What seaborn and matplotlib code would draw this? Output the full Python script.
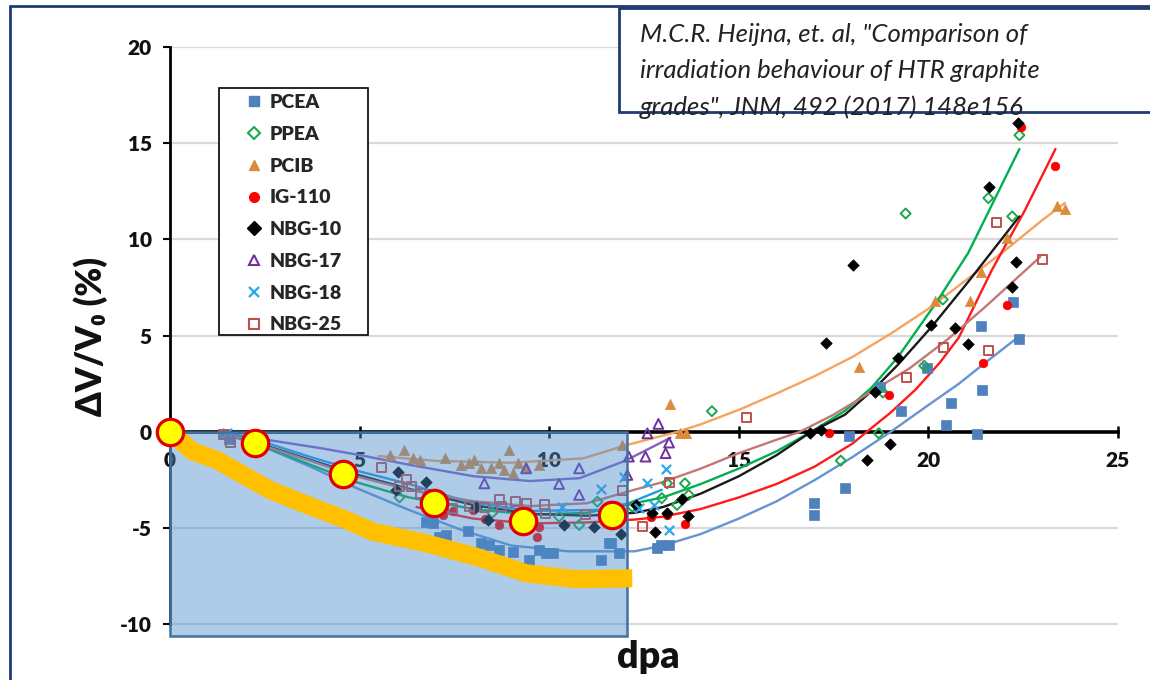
import numpy as np
import pandas as pd
import matplotlib
matplotlib.use("Agg")
import matplotlib.pyplot as plt
import seaborn as sns
from matplotlib.patches import Rectangle
from matplotlib.lines import Line2D

# ---------------- data ----------------
series_names = ["PCEA", "PPEA", "PCIB", "IG-110", "NBG-10", "NBG-17", "NBG-18", "NBG-25"]

PCEA_x = [1.45, 1.55, 6.75, 6.93, 7.1, 7.28, 7.85, 8.2, 8.42, 8.68, 9.04, 9.47, 9.74, 9.91, 10.09,
          11.36, 11.62, 11.84, 11.58, 12.85, 12.94, 13.16, 16.98, 16.98, 17.79, 17.9, 18.73, 19.29,
          19.95, 20.47, 20.59, 21.29, 21.42, 21.4, 22.23, 22.4]
PCEA_y = [-0.1, -0.35, -4.66, -4.74, -5.44, -5.35, -5.17, -5.79, -5.87, -6.13, -6.22, -6.65, -6.13, -6.3, -6.3,
          -6.65, -5.79, -6.3, -5.78, -6.03, -5.87, -5.87, -3.68, -4.29, -2.92, -0.2, 2.34, 1.08,
          3.33, 0.38, 1.48, -0.1, 2.17, 5.52, 6.74, 4.83]

PPEA_x = [6.05, 8.5, 9.3, 10.26, 10.79, 11.27, 12.19, 12.97, 13.11, 13.37, 13.58, 13.68, 14.29,
          17.69, 18.69, 18.8, 19.89, 20.38, 19.4, 21.58, 22.21, 22.4]
PPEA_y = [-3.4, -4.2, -4.4, -4.4, -4.83, -3.62, -3.88, -3.44, -2.67, -3.79, -2.67, -3.27, 1.08,
          -1.49, -0.07, 2.05, 3.44, 6.88, 11.35, 12.15, 11.2, 15.42]

PCIB_x = [5.79, 6.18, 6.4, 6.58, 7.24, 7.67, 7.89, 8.03, 8.2, 8.46, 8.68, 8.82, 8.95, 9.04, 9.17,
          9.39, 9.74, 11.93, 13.19, 13.45, 13.6, 18.18, 20.17, 21.09, 21.4, 22.08, 23.4, 23.6]
PCIB_y = [-1.2, -0.94, -1.37, -1.45, -1.37, -1.71, -1.62, -1.45, -1.89, -1.89, -1.62, -1.97, -0.94, -2.15, -1.62,
          -1.8, -1.71, -0.67, 1.44, -0.07, -0.07, 3.4, 6.8, 6.8, 8.3, 10.1, 11.74, 11.6]

IG110_x = [6.89, 7.2, 7.46, 7.98, 8.3, 8.68, 9.69, 9.74, 12.68, 13.11, 13.58, 17.39, 18.97, 21.45,
           22.08, 23.34, 22.45]
IG110_y = [-4.05, -4.3, -4.1, -4.05, -4.5, -4.83, -5.44, -4.92, -4.4, -4.31, -4.8, -0.07, 1.93, 3.58,
           6.6, 13.8, 15.84]

NBG10_x = [6.01, 5.96, 6.75, 8.07, 8.38, 10.39, 11.18, 11.89, 12.28, 12.72, 12.79, 13.11, 13.49, 13.67,
           16.88, 17.18, 17.3, 18.02, 18.39, 18.59, 18.99, 19.19, 20.08, 20.69, 21.05, 21.6, 22.2,
           22.3, 22.37]
NBG10_y = [-2.06, -3.0, -2.6, -3.88, -4.57, -4.83, -4.95, -5.3, -3.79, -4.23, -5.18, -4.23, -3.5, -4.35,
           -0.07, 0.1, 4.6, 8.68, -1.48, 2.08, -0.63, 3.85, 5.56, 5.4, 4.57, 12.73, 7.52,
           8.85, 16.05]

NBG17_x = [8.29, 9.39, 10.26, 10.79, 10.79, 12.06, 12.1, 12.54, 12.59, 12.88, 13.07, 13.16]
NBG17_y = [-2.67, -1.89, -2.7, -1.89, -3.27, -2.23, -1.28, -1.28, -0.07, 0.42, -1.1, -0.55]

NBG18_x = [1.5, 10.35, 11.36, 11.97, 12.37, 12.59, 12.76, 13.07, 13.16]
NBG18_y = [-0.05, -3.88, -2.96, -2.32, -3.96, -2.64, -3.79, -1.94, -5.09]

NBG25_x = [1.4, 1.6, 5.57, 6.05, 6.23, 6.36, 6.6, 7.0, 7.2, 7.46, 7.89, 8.3, 8.68, 8.73, 9.12, 9.4,
           9.87, 9.91, 10.96, 11.93, 12.46, 13.16, 15.19, 19.41, 20.4, 21.58, 21.79, 23.0]
NBG25_y = [-0.15, -0.55, -1.84, -2.84, -2.49, -2.84, -3.2, -3.4, -3.6, -3.96, -3.88, -3.9, -3.53, -3.88, -3.62, -3.7,
           -3.79, -4.23, -4.31, -3.05, -4.92, -2.6, 0.73, 2.83, 4.39, 4.22, 10.9, 8.96]

# trend curves
cPCEA_x = [1.3, 2.5, 3.7, 4.9, 6.3, 7.7, 9.0, 10.5, 12.25, 13, 14, 15, 16, 17, 18, 19, 20, 20.8, 21.5, 22.35]
cPCEA_y = [0, -0.8, -1.8, -2.9, -4.05, -5.1, -5.9, -6.2, -6.2, -5.9, -5.3, -4.5, -3.6, -2.5, -1.3, 0, 1.4, 2.5, 3.6, 4.9]
cPPEA_x = [1.3, 2.6, 3.7, 4.9, 6.3, 8, 9.5, 11, 12.25, 13, 14, 15, 16, 16.9, 17.8, 18.5, 19.2, 20.2, 21.05, 21.8, 22.4]
cPPEA_y = [0, -0.85, -1.7, -2.6, -3.4, -4.0, -4.3, -4.2, -3.7, -3.4, -2.7, -1.9, -1.0, 0, 1.1, 2.3, 3.9, 6.7, 9.3, 12.3, 14.7]
cPCIB_x = [5.5, 7, 9, 10.9, 12, 13.37, 14, 15, 16, 17, 18, 19, 20, 21, 22, 23, 23.6]
cPCIB_y = [-1.25, -1.5, -1.6, -1.37, -0.7, 0, 0.4, 1.15, 2.0, 2.9, 3.9, 5.1, 6.4, 7.9, 9.4, 11.0, 11.9]
cIG110_x = [6.5, 8, 9.5, 11, 12.25, 13, 14, 15, 16, 17, 18, 18.37, 19, 19.66, 20.3, 20.8, 21.67, 22.54, 23.35]
cIG110_y = [-3.9, -4.5, -4.75, -4.7, -4.55, -4.4, -4.0, -3.4, -2.7, -1.8, -0.6, 0, 1.0, 2.2, 3.6, 4.9, 8.4, 11.5, 14.7]
cNBG10_x = [1.3, 2.6, 3.7, 4.9, 6.3, 8, 9.5, 11, 12.25, 13, 14, 15, 16, 16.9, 17.8, 18.6, 19.2, 20.1, 21.05, 22.4]
cNBG10_y = [0, -0.75, -1.45, -2.2, -2.95, -3.8, -4.25, -4.35, -4.2, -3.9, -3.2, -2.3, -1.2, 0, 0.9, 2.3, 3.5, 5.5, 7.8, 11.2]
cNBG17_x = [1.3, 2.6, 4, 5, 6.3, 8, 9.5, 10.8, 12, 12.6, 13.2]
cNBG17_y = [0, -0.42, -0.85, -1.2, -1.7, -2.3, -2.55, -2.4, -1.5, -0.9, -0.3]
cNBG18_x = [1.3, 2.6, 3.7, 4.9, 6.3, 7.8, 9.5, 11.3, 12.1, 12.97]
cNBG18_y = [0, -0.6, -1.3, -2.0, -2.7, -3.6, -4.1, -4.05, -3.7, -3.0]
cNBG25_x = [1.3, 2.6, 3.7, 4.9, 6.3, 8, 9.5, 11, 12.25, 13, 14, 15, 16, 16.6, 17.5, 18.5, 19.5, 20.5, 21.5, 22.95]
cNBG25_y = [0, -0.8, -1.5, -2.3, -3.0, -3.6, -3.85, -3.7, -3.0, -2.6, -1.9, -1.1, -0.4, 0, 0.9, 2.1, 3.3, 4.8, 6.5, 9.1]

# highlighted region, thick orange path and yellow markers
box_x = [0.0, 12.05]
box_y = [-10.6, 0.0]
hl_x = [0.0, 0.61, 1.23, 1.93, 2.63, 3.51, 4.65, 5.35, 6.75, 8.07, 9.39, 10.7, 12.19]
hl_y = [0.0, -1.02, -1.45, -2.23, -3.01, -3.71, -4.57, -5.18, -5.78, -6.48, -7.34, -7.65, -7.6]
mk_x = [0.0, 2.24, 4.56, 6.95, 9.3, 11.66]
mk_y = [0.0, -0.58, -2.18, -3.7, -4.6, -4.31]

x_ticks = [0, 5, 10, 15, 20, 25]
y_ticks = [-10, -5, 0, 5, 10, 15, 20]
citation = ['M.C.R. Heijna, et. al, "Comparison of',
            'irradiation behaviour of HTR graphite',
            'grades", JNM, 492 (2017) 148e156']

# ---------------- styling ----------------
sns.set_theme(style="white")
plt.rcParams["font.family"] = ["Lato", "DejaVu Sans"]
plt.rcParams["axes.unicode_minus"] = False

W, H = 1150, 680
fig = plt.figure(figsize=(W / 100, H / 100), dpi=100)
fig.patch.set_facecolor("white")
ax = fig.add_axes([170 / W, 1 - 638.9 / H, 948 / W, 591.9 / H])
ax.set_xlim(0, 25)
ax.set_ylim(-10.75, 20)
ax.set_facecolor("white")

styles = {
    "PCEA":   dict(x=PCEA_x, y=PCEA_y, cx=cPCEA_x, cy=cPCEA_y, marker="s", c="#4f81bd", lc="#6494d4", open=False, s=42),
    "PPEA":   dict(x=PPEA_x, y=PPEA_y, cx=cPPEA_x, cy=cPPEA_y, marker="D", c="#1fa64b", lc="#00b050", open=True, s=26),
    "PCIB":   dict(x=PCIB_x, y=PCIB_y, cx=cPCIB_x, cy=cPCIB_y, marker="^", c="#dc8a3c", lc="#f6a35e", open=False, s=55),
    "IG-110": dict(x=IG110_x, y=IG110_y, cx=cIG110_x, cy=cIG110_y, marker="o", c="#ff0000", lc="#ff1a1a", open=False, s=38),
    "NBG-10": dict(x=NBG10_x, y=NBG10_y, cx=cNBG10_x, cy=cNBG10_y, marker="D", c="#000000", lc="#1a1a1a", open=False, s=34),
    "NBG-17": dict(x=NBG17_x, y=NBG17_y, cx=cNBG17_x, cy=cNBG17_y, marker="^", c="#7030a0", lc="#8462c4", open=True, s=50),
    "NBG-18": dict(x=NBG18_x, y=NBG18_y, cx=cNBG18_x, cy=cNBG18_y, marker="x", c="#2aa8ef", lc="#1f9be8", open=None, s=45),
    "NBG-25": dict(x=NBG25_x, y=NBG25_y, cx=cNBG25_x, cy=cNBG25_y, marker="s", c="#c0504d", lc="#c47874", open=True, s=42),
}

# trend curves
for name in series_names:
    st = styles[name]
    sns.lineplot(x=st["cx"], y=st["cy"], ax=ax, color=st["lc"], linewidth=1.7,
                 sort=False, estimator=None, legend=False, zorder=2.8)

# data markers
handles = []
for name in series_names:
    st = styles[name]
    if st["open"] is None:
        sns.scatterplot(x=st["x"], y=st["y"], ax=ax, marker="x", s=st["s"], color=st["c"],
                        linewidth=1.6, legend=False, zorder=3)
        h = Line2D([], [], ls="none", marker="x", ms=6.5, mew=1.7, color=st["c"])
    elif st["open"]:
        sns.scatterplot(x=st["x"], y=st["y"], ax=ax, marker=st["marker"], s=st["s"], color=st["c"],
                        facecolor="none", edgecolor=st["c"], linewidth=1.4, legend=False, zorder=3)
        h = Line2D([], [], ls="none", marker=st["marker"], ms=6.5, mfc="white", mec=st["c"], mew=1.5)
    else:
        sns.scatterplot(x=st["x"], y=st["y"], ax=ax, marker=st["marker"], s=st["s"], color=st["c"],
                        edgecolor=st["c"], linewidth=0.5, legend=False, zorder=3)
        h = Line2D([], [], ls="none", marker=st["marker"], ms=7, mfc=st["c"], mec=st["c"])
    handles.append(h)

# blue highlight box
ax.add_patch(Rectangle((box_x[0], box_y[0]), box_x[1] - box_x[0], box_y[1] - box_y[0],
                       facecolor=(76 / 255, 140 / 255, 204 / 255, 0.45), edgecolor="#41719c",
                       lw=1.8, zorder=4, clip_on=False))

# thick orange path
sns.lineplot(x=hl_x, y=hl_y, ax=ax, color="#ffc000", linewidth=13, sort=False,
             estimator=None, legend=False, zorder=5)
ax.lines[-1].set_clip_on(False)
ax.lines[-1].set_solid_capstyle("butt")
ax.lines[-1].set_solid_joinstyle("round")

# yellow markers
sns.scatterplot(x=mk_x, y=mk_y, ax=ax, s=19 ** 2, color="#ffff00", edgecolor="#e00000",
                linewidth=2.3, legend=False, zorder=6, clip_on=False)

# axes, ticks, grid
for side in ["top", "right"]:
    ax.spines[side].set_visible(False)
ax.spines["bottom"].set_position(("data", 0))
ax.spines["bottom"].set_linewidth(2.6)
ax.spines["bottom"].set_color("black")
ax.spines["left"].set_position(("data", 0))
ax.spines["left"].set_bounds(-10, 20)
ax.spines["left"].set_linewidth(2.0)
ax.spines["left"].set_color("black")

ax.set_xticks(x_ticks)
ax.set_yticks(y_ticks)
ax.yaxis.grid(True, color="#d9d9d9", linewidth=1.6)
ax.xaxis.grid(False)
ax.set_axisbelow(True)
ax.tick_params(axis="x", direction="inout", length=8, width=1.8, pad=10, labelsize=15,
               labelcolor="#111111", color="black", bottom=True)
ax.tick_params(axis="y", direction="out", length=5, width=1.5, pad=8, labelsize=15,
               labelcolor="#111111", color="black", left=True)
for lbl in ax.get_xticklabels() + ax.get_yticklabels():
    lbl.set_fontweight("heavy")
ax.set_xlabel("")
ax.set_ylabel("")

# axis titles
fig.text(91 / W, 1 - 337 / H, "ΔV/V₀ (%)", rotation=90, fontsize=25, fontweight="heavy",
         ha="center", va="center", color="#111111")
fig.text(648 / W, 1 - 657 / H, "dpa", fontsize=27, fontweight="heavy", ha="center", va="center",
         color="#111111")

# legend frame + legend
fig.add_artist(Rectangle((219 / W, 1 - 335 / H), 149 / W, 247 / H, transform=fig.transFigure,
                         facecolor="white", edgecolor="black", lw=1.2, zorder=2))
fig.legend(handles, series_names, loc="upper left", bbox_to_anchor=(246 / W, 1 - 94 / H),
           frameon=False, borderpad=0, borderaxespad=0, handlelength=0.8, handletextpad=0.4,
           labelspacing=0.76, prop=dict(family=["Lato", "DejaVu Sans"], weight="heavy", size=14))

# citation box
fig.add_artist(Rectangle((619 / W, 1 - 112 / H), 0.6, 104 / H, transform=fig.transFigure,
                         facecolor="white", edgecolor="#1f3b73", lw=2, zorder=3))
for i, line in enumerate(citation):
    fig.text(640 / W, 1 - (35 + 36 * i) / H, line, fontsize=18.5, style="italic",
             ha="left", va="center", color="#222222", zorder=4)

# outer frame
fig.add_artist(Line2D([10 / W, 10 / W], [0, 1 - 6 / H], transform=fig.transFigure,
                      color="#1f3b73", lw=2, zorder=6))
fig.add_artist(Line2D([10 / W, 1], [1 - 6 / H, 1 - 6 / H], transform=fig.transFigure,
                      color="#1f3b73", lw=2, zorder=6))

fig.savefig("out.png", dpi=100)
